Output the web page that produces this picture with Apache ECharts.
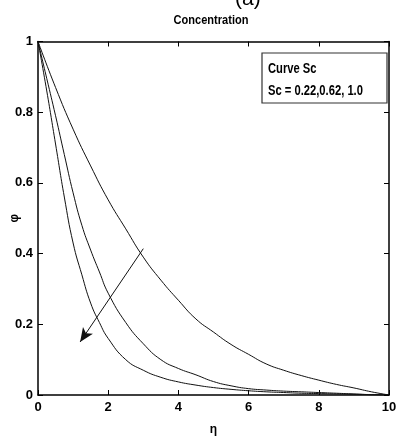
<!DOCTYPE html>
<html><head><meta charset="utf-8">
<script src="https://cdn.jsdelivr.net/npm/echarts@6/dist/echarts.min.js"></script>
<style>html,body{margin:0;padding:0;background:#fff}#c{width:398px;height:440px}</style>
</head><body><div id="c"></div>
<script>
var etaTop = [0,0.5,1,1.5,2,2.5,3,3.5,4,4.5,5,5.5,6,6.5,7,7.5,8,8.5,9,9.5,10];
var sc022 = [1,0.87,0.752,0.648,0.552,0.47,0.39,0.325,0.268,0.215,0.178,0.143,0.115,0.088,0.07,0.055,0.042,0.03,0.02,0.009,0];
var eta = [0,0.25,0.5,0.75,1,1.25,1.5,1.75,2,2.5,3,3.5,4,4.5,5,5.5,6,6.5,7,7.5,8,8.5,9,9.5,10];
var sc062 = [1,0.895,0.79,0.68,0.572,0.48,0.41,0.348,0.288,0.205,0.145,0.1,0.075,0.057,0.038,0.026,0.018,0.014,0.011,0.009,0.007,0.005,0.003,0.001,0];
var sc100 = [1,0.86,0.71,0.56,0.43,0.34,0.26,0.205,0.16,0.1,0.07,0.05,0.037,0.028,0.021,0.016,0.012,0.009,0.007,0.005,0.004,0.003,0.002,0.001,0];
var arrowFrom = [3.0, 0.414];
var arrowTo = [1.2, 0.15];
var titleText = 'Concentration';
var legendLines = ['Curve Sc', 'Sc = 0.22,0.62, 1.0'];

function pairs(xs, ys){ return xs.map(function(x,i){ return [x, ys[i]]; }); }
var FONT = '"Liberation Sans", Arial, sans-serif';
var chart = echarts.init(document.getElementById('c'));
var lineStyle = {color:'#111', width:1};
function tick(){ return {show:true, inside:true, length:5, lineStyle:{color:'#000', width:1}}; }
function axLine(){ return {onZero:false, lineStyle:{color:'#000', width:1.5}}; }
chart.setOption({
  animation:false,
  backgroundColor:'#fff',
  grid:{left:38, right:9, top:41.5, bottom:45, containLabel:false, outerBoundsMode:'none'},
  xAxis:[{type:'value', min:0, max:10, interval:2, name:'η', nameLocation:'middle', nameGap:29, nameMoveOverlap:false,
    nameTextStyle:{fontFamily:FONT, fontWeight:'bold', fontSize:12, color:'#000'},
    axisLine:axLine(), axisTick:tick(),
    axisLabel:{fontFamily:FONT, fontWeight:'bold', fontSize:13, color:'#000', margin:6}, splitLine:{show:false}},
    {type:'value', position:'top', min:0, max:10, interval:2, axisLine:axLine(),
    axisTick:tick(), axisLabel:{show:false}, splitLine:{show:false}}],
  yAxis:[{type:'value', min:0, max:1, interval:0.2, name:'φ', nameLocation:'middle', nameGap:17, nameMoveOverlap:false,
    nameTextStyle:{fontFamily:FONT, fontWeight:'bold', fontSize:12, color:'#000'},
    axisLine:axLine(), axisTick:tick(),
    axisLabel:{fontFamily:FONT, fontWeight:'bold', fontSize:13, color:'#000', margin:5}, splitLine:{show:false}},
    {type:'value', position:'right', min:0, max:1, interval:0.2, axisLine:axLine(),
    axisTick:tick(), axisLabel:{show:false}, splitLine:{show:false}}],
  series:[
    {type:'line', data:pairs(etaTop, sc022), smooth:true, showSymbol:false, lineStyle:lineStyle,
      markLine:{silent:true, symbol:['none','arrow'], symbolSize:[9,14], label:{show:false},
        lineStyle:{color:'#111', width:1, type:'solid'},
        data:[[{coord:arrowFrom},{coord:arrowTo}]]}},
    {type:'line', data:pairs(eta, sc062), smooth:true, showSymbol:false, lineStyle:lineStyle},
    {type:'line', data:pairs(eta, sc100), smooth:true, showSymbol:false, lineStyle:lineStyle}
  ],
  graphic:[
    {type:'text', x:235, y:-11, style:{text:'(a)', font:'21px Arial, "Liberation Sans", sans-serif', fill:'#000'}},
    {type:'text', x:211, y:14, scaleX:0.85, style:{text:titleText, font:'bold 13px '+FONT, fill:'#000', align:'center'}},
    {type:'rect', shape:{x:262, y:53, width:125, height:50}, style:{fill:'#fff', stroke:'#333', lineWidth:1.2}},
    {type:'text', x:268, y:62, scaleX:0.8, style:{text:legendLines[0], font:'bold 14px '+FONT, fill:'#000'}},
    {type:'text', x:268, y:84, scaleX:0.8, style:{text:legendLines[1], font:'bold 14px '+FONT, fill:'#000'}}
  ]
});
</script></body></html>
